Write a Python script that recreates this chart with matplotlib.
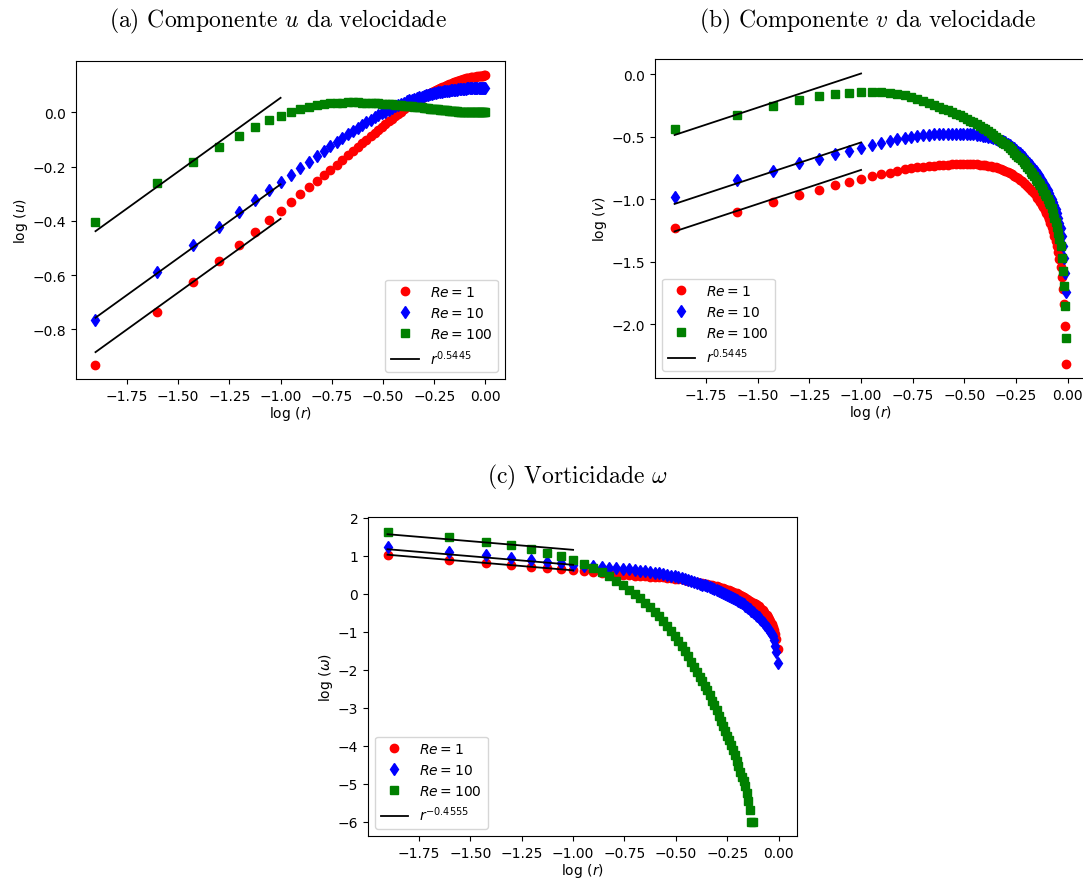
import numpy as np
import matplotlib.pyplot as plt

# malha radial r = i/80 (os pontos em log10 que aparecem nos graficos)
r = np.arange(1, 81) / 80
logr = np.log10(r)
logr_fit = logr[r <= 0.1]

labels = [r'$Re = 1$', r'$Re = 10$', r'$Re = 100$']
colors = ['red', 'blue', 'green']
markers = ['o', 'd', 's']

# (a) log(u)
u_re1 = [-0.930, -0.735, -0.625, -0.548, -0.488, -0.440, -0.398, -0.363, -0.330, -0.302,
         -0.277, -0.254, -0.232, -0.212, -0.193, -0.175, -0.159, -0.143, -0.128, -0.114,
         -0.101, -0.088, -0.076, -0.064, -0.053, -0.043, -0.033, -0.023, -0.014, -0.005,
         0.003, 0.011, 0.019, 0.026, 0.032, 0.038, 0.044, 0.049, 0.054, 0.058,
         0.063, 0.067, 0.071, 0.075, 0.079, 0.082, 0.086, 0.089, 0.092, 0.095,
         0.098, 0.101, 0.104, 0.106, 0.109, 0.111, 0.113, 0.115, 0.117, 0.119,
         0.121, 0.122, 0.124, 0.125, 0.126, 0.127, 0.128, 0.129, 0.130, 0.131,
         0.132, 0.132, 0.133, 0.134, 0.134, 0.135, 0.135, 0.135, 0.136, 0.136]
u_re10 = [-0.765, -0.587, -0.489, -0.421, -0.367, -0.323, -0.287, -0.258, -0.230, -0.205,
          -0.183, -0.161, -0.141, -0.123, -0.108, -0.094, -0.081, -0.069, -0.058, -0.047,
          -0.037, -0.028, -0.019, -0.011, -0.004, 0.003, 0.010, 0.016, 0.022, 0.027,
          0.032, 0.036, 0.040, 0.044, 0.047, 0.050, 0.053, 0.056, 0.058, 0.061,
          0.063, 0.065, 0.067, 0.069, 0.071, 0.072, 0.074, 0.075, 0.076, 0.077,
          0.078, 0.079, 0.080, 0.081, 0.082, 0.083, 0.083, 0.084, 0.085, 0.085,
          0.086, 0.086, 0.087, 0.087, 0.088, 0.088, 0.089, 0.089, 0.089, 0.090,
          0.090, 0.090, 0.090, 0.091, 0.091, 0.091, 0.091, 0.091, 0.091, 0.091]
u_re100 = [-0.405, -0.262, -0.183, -0.127, -0.086, -0.055, -0.030, -0.012, 0.002, 0.012,
           0.020, 0.026, 0.030, 0.033, 0.035, 0.036, 0.037, 0.037, 0.037, 0.036,
           0.036, 0.035, 0.034, 0.033, 0.032, 0.031, 0.030, 0.029, 0.028, 0.027,
           0.026, 0.025, 0.024, 0.023, 0.022, 0.021, 0.020, 0.019, 0.018, 0.017,
           0.016, 0.015, 0.014, 0.013, 0.012, 0.011, 0.011, 0.010, 0.009, 0.008,
           0.008, 0.007, 0.006, 0.006, 0.005, 0.005, 0.004, 0.004, 0.003, 0.003,
           0.003, 0.002, 0.002, 0.002, 0.001, 0.001, 0.001, 0.001, 0.001, 0.000,
           0.000, 0.000, 0.000, 0.000, 0.000, 0.000, 0.000, 0.000, 0.000, 0.000]

# (b) log(v)
v_re1 = [-1.229, -1.098, -1.019, -0.963, -0.923, -0.886, -0.859, -0.838, -0.815, -0.800,
         -0.786, -0.773, -0.760, -0.752, -0.745, -0.740, -0.735, -0.731, -0.727, -0.725,
         -0.723, -0.721, -0.720, -0.719, -0.718, -0.718, -0.718, -0.719, -0.720, -0.722,
         -0.724, -0.727, -0.730, -0.734, -0.738, -0.743, -0.749, -0.755, -0.762, -0.770,
         -0.779, -0.789, -0.799, -0.810, -0.821, -0.832, -0.843, -0.855, -0.867, -0.880,
         -0.893, -0.907, -0.921, -0.936, -0.952, -0.968, -0.985, -1.003, -1.022, -1.042,
         -1.062, -1.084, -1.108, -1.133, -1.159, -1.188, -1.219, -1.252, -1.289, -1.329,
         -1.373, -1.422, -1.478, -1.544, -1.621, -1.716, -1.840, -2.013, -2.312]
v_re10 = [-0.979, -0.848, -0.774, -0.711, -0.675, -0.639, -0.611, -0.586, -0.566, -0.546,
          -0.531, -0.518, -0.507, -0.499, -0.493, -0.488, -0.484, -0.481, -0.479, -0.477,
          -0.476, -0.475, -0.475, -0.475, -0.476, -0.477, -0.479, -0.481, -0.484, -0.487,
          -0.491, -0.495, -0.500, -0.505, -0.511, -0.517, -0.523, -0.530, -0.537, -0.545,
          -0.556, -0.568, -0.580, -0.593, -0.606, -0.619, -0.632, -0.646, -0.660, -0.675,
          -0.690, -0.706, -0.722, -0.738, -0.755, -0.772, -0.790, -0.808, -0.827, -0.846,
          -0.866, -0.886, -0.907, -0.928, -0.950, -0.972, -0.996, -1.021, -1.048, -1.077,
          -1.109, -1.145, -1.185, -1.232, -1.292, -1.372, -1.470, -1.590, -1.740]
v_re100 = [-0.434, -0.322, -0.253, -0.205, -0.176, -0.158, -0.146, -0.139, -0.138, -0.141,
           -0.147, -0.155, -0.167, -0.180, -0.194, -0.211, -0.228, -0.245, -0.261, -0.275,
           -0.289, -0.302, -0.316, -0.329, -0.344, -0.358, -0.371, -0.384, -0.399, -0.413,
           -0.427, -0.441, -0.454, -0.467, -0.484, -0.500, -0.515, -0.531, -0.546, -0.561,
           -0.576, -0.593, -0.609, -0.626, -0.642, -0.658, -0.673, -0.688, -0.702, -0.721,
           -0.740, -0.760, -0.779, -0.797, -0.816, -0.834, -0.852, -0.869, -0.887, -0.907,
           -0.930, -0.953, -0.975, -0.998, -1.021, -1.040, -1.070, -1.105, -1.145, -1.182,
           -1.220, -1.265, -1.315, -1.370, -1.470, -1.570, -1.690, -1.850, -2.110]

# (c) log(omega)
w_re1 = [1.017, 0.885, 0.816, 0.753, 0.711, 0.674, 0.640, 0.614, 0.596, 0.569,
         0.548, 0.530, 0.513, 0.497, 0.483, 0.470, 0.460, 0.451, 0.445, 0.440,
         0.432, 0.424, 0.414, 0.404, 0.393, 0.382, 0.370, 0.357, 0.343, 0.329,
         0.314, 0.298, 0.283, 0.268, 0.253, 0.239, 0.225, 0.212, 0.199, 0.186,
         0.171, 0.155, 0.137, 0.119, 0.100, 0.081, 0.062, 0.044, 0.026, 0.008,
         -0.012, -0.037, -0.061, -0.086, -0.111, -0.136, -0.160, -0.184, -0.210, -0.236,
         -0.261, -0.286, -0.311, -0.340, -0.375, -0.408, -0.446, -0.484, -0.530, -0.572,
         -0.614, -0.660, -0.720, -0.790, -0.870, -0.960, -1.060, -1.200, -1.470]
w_re10 = [1.225, 1.096, 1.009, 0.938, 0.885, 0.843, 0.795, 0.760, 0.738, 0.718,
          0.700, 0.683, 0.666, 0.650, 0.636, 0.622, 0.606, 0.588, 0.569, 0.550,
          0.531, 0.511, 0.491, 0.471, 0.450, 0.428, 0.405, 0.382, 0.358, 0.334,
          0.310, 0.286, 0.262, 0.238, 0.214, 0.190, 0.166, 0.142, 0.118, 0.095,
          0.070, 0.045, 0.020, -0.005, -0.030, -0.057, -0.084, -0.111, -0.139, -0.167,
          -0.196, -0.226, -0.256, -0.287, -0.318, -0.350, -0.383, -0.416, -0.450, -0.485,
          -0.520, -0.556, -0.593, -0.630, -0.668, -0.706, -0.745, -0.785, -0.826, -0.868,
          -0.912, -0.958, -1.006, -1.058, -1.115, -1.220, -1.380, -1.550, -1.820]
w_re100 = [1.633, 1.490, 1.369, 1.272, 1.175, 1.080, 0.985, 0.877, 0.780, 0.675,
           0.569, 0.450, 0.333, 0.220, 0.105, -0.015, -0.125, -0.245, -0.365, -0.476,
           -0.590, -0.719, -0.860, -0.990, -1.116, -1.250, -1.380, -1.520, -1.650, -1.790,
           -1.930, -2.060, -2.190, -2.310, -2.430, -2.550, -2.680, -2.820, -2.940, -3.070,
           -3.220, -3.350, -3.480, -3.610, -3.740, -3.860, -3.980, -4.120, -4.260, -4.410,
           -4.540, -4.690, -4.820, -4.940, -5.070, -5.260, -5.450, -5.700, -6.000, -6.000]

# leis de potencia perto da origem: log10(C) + p*log10(r)
p_vel = 0.5445
p_vort = -0.4555
logC_u = [0.152, 0.279, 0.598]
logC_v = [-0.220, 0.000, 0.551]
logC_w = [0.155, 0.300, 0.695]

W, H = 1083, 879
fig = plt.figure(figsize=(W / 100, H / 100), dpi=100)


def axes_px(left, top, right, bottom):
    return fig.add_axes([left / W, 1 - bottom / H, (right - left) / W, (bottom - top) / H])


def panel(ax, series, p, consts, ylabel, fitlabel, loc):
    for y, c, m, lab in zip(series, colors, markers, labels):
        ax.plot(logr[:len(y)], y, m, color=c, ms=6, label=lab)
    for i, k in enumerate(consts):
        ax.plot(logr_fit, k + p * logr_fit, '-', color='black', lw=1.3,
                label=fitlabel if i == 0 else None)
    ax.set_xlabel(r'$\log\,(r)$', labelpad=1)
    ax.set_ylabel(ylabel, labelpad=2)
    ax.set_xticks([-1.75, -1.5, -1.25, -1.0, -0.75, -0.5, -0.25, 0.0])
    ax.legend(loc=loc, fontsize=10)


ax_a = axes_px(76, 62, 505, 380)
panel(ax_a, [u_re1, u_re10, u_re100], p_vel, logC_u, r'$\log\,(u)$',
      r'$r^{0.5445}$', 'lower right')

ax_b = axes_px(655, 60, 1086, 379)
panel(ax_b, [v_re1, v_re10, v_re100], p_vel, logC_v, r'$\log\,(v)$',
      r'$r^{0.5445}$', 'lower left')

ax_c = axes_px(368, 518, 797, 837)
panel(ax_c, [w_re1, w_re10, w_re100], p_vort, logC_w, r'$\log\,(\omega)$',
      r'$r^{-0.4555}$', 'lower left')

title_kw = dict(family='cmr10', math_fontfamily='cm', fontsize=17, ha='center', va='center')
fig.text(278 / W, 1 - 21 / H, r'(a) Componente $u$ da velocidade', **title_kw)
fig.text(868 / W, 1 - 21 / H, r'(b) Componente $v$ da velocidade', **title_kw)
fig.text(577 / W, 1 - 477 / H, r'(c) Vorticidade $\omega$', **title_kw)

fig.savefig('out.png', dpi=100)
